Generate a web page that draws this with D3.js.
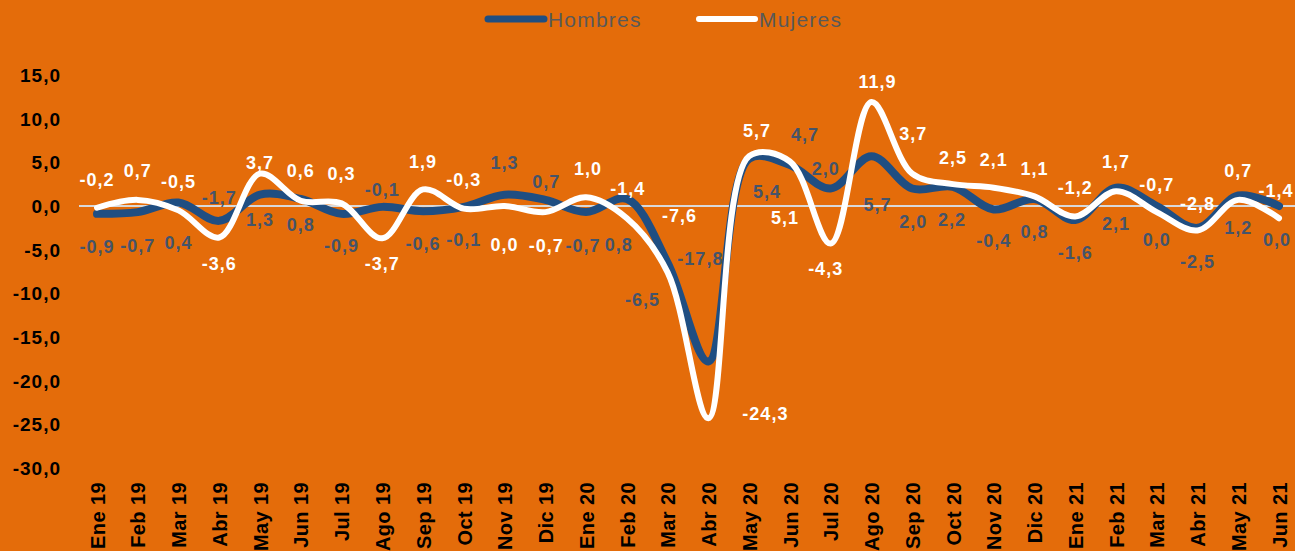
<!DOCTYPE html>
<html>
<head>
<meta charset="utf-8">
<script src="https://cdn.jsdelivr.net/npm/d3@7/dist/d3.min.js"></script>
<style>
  html, body { margin: 0; padding: 0; background: #E46C0A; }
  svg { display: block; font-family: "Liberation Sans", Arial, sans-serif; }
</style>
</head>
<body>
<svg id="chart" width="1295" height="551"></svg>
<script>
// meses
var months = ["Ene 19", "Feb 19", "Mar 19", "Abr 19", "May 19", "Jun 19", "Jul 19", "Ago 19", "Sep 19", "Oct 19", "Nov 19", "Dic 19",
  "Ene 20", "Feb 20", "Mar 20", "Abr 20", "May 20", "Jun 20", "Jul 20", "Ago 20", "Sep 20", "Oct 20", "Nov 20", "Dic 20",
  "Ene 21", "Feb 21", "Mar 21", "Abr 21", "May 21", "Jun 21"];

var hombres = [-0.9, -0.7, 0.4, -1.7, 1.3, 0.8, -0.9, -0.1, -0.6, -0.1, 1.3, 0.7,
  -0.7, 0.8, -6.5, -17.8, 5.4, 4.7, 2.0, 5.7, 2.0, 2.2, -0.4, 0.8,
  -1.6, 2.1, 0.0, -2.5, 1.2, 0.0];

var mujeres = [-0.2, 0.7, -0.5, -3.6, 3.7, 0.6, 0.3, -3.7, 1.9, -0.3, 0.0, -0.7,
  1.0, -1.4, -7.6, -24.3, 5.7, 5.1, -4.3, 11.9, 3.7, 2.5, 2.1, 1.1,
  -1.2, 1.7, -0.7, -2.8, 0.7, -1.4];

var yTicks = [-30, -25, -20, -15, -10, -5, 0, 5, 10, 15];

// where each data label sits relative to its point (px)
var hombresLabelOff = [[0, 33], [0, 33], [0, 40], [0, -23], [0, 25], [0, 26], [0, 32], [0, -17], [0, 32], [0, 33], [0, -32], [1, -18],
  [-3, 33], [-8, 46], [-25, 37], [-8, -103], [18, 33], [15, -30], [-5, -20], [6, 48], [1, 33], [-1, 33], [0, 31], [0, 33],
  [0, 33], [0, 36], [0, 34], [0, 34], [0, 32], [-2, 34]];
var mujeresLabelOff = [[0, -28], [0, -29], [0, -29], [0, 26], [0, -11], [0, -30], [0, -30], [0, 25], [0, -28], [0, -29], [0, 39], [1, 33],
  [2, -29], [1, -30], [12, -57], [57, -5], [8, -26], [-5, 56], [-5, 25], [6, -21], [1, -40], [0, -27], [0, -28], [0, -28],
  [0, -29], [0, -30], [0, -28], [0, -27], [0, -29], [-3, -28]];

var es = d3.formatLocale({decimal: ",", thousands: ".", grouping: [3], currency: ["", "€"], minus: "-"});
var fmt = es.format(".1f");

var svg = d3.select("#chart");
var W = 1295, H = 551;

svg.append("rect").attr("width", W).attr("height", H).attr("fill", "#E46C0A");

var x = d3.scalePoint().domain(months).range([97, 1279]);
var y = d3.scaleLinear().domain([-30, 15]).range([468, 75]);

// y axis
var yAxis = svg.append("g")
  .attr("transform", "translate(61,0)")
  .call(d3.axisLeft(y).tickValues(yTicks).tickSize(0).tickPadding(0).tickFormat(fmt));
yAxis.select(".domain").remove();
yAxis.selectAll("text")
  .attr("font-family", "'Liberation Sans', Arial, sans-serif")
  .attr("font-size", 19)
  .attr("font-weight", "bold")
  .attr("letter-spacing", "1px")
  .attr("fill", "#000")
  .attr("dy", "0.35em");

// x axis, rotated labels
var xAxis = svg.append("g")
  .attr("transform", "translate(0,482)")
  .call(d3.axisBottom(x).tickSize(0).tickPadding(0));
xAxis.select(".domain").remove();
xAxis.selectAll("text")
  .attr("font-family", "'Liberation Sans', Arial, sans-serif")
  .attr("font-size", 20)
  .attr("font-weight", "bold")
  .attr("letter-spacing", "0.4px")
  .attr("fill", "#000")
  .attr("text-anchor", "end")
  .attr("transform", "rotate(-90)")
  .attr("x", 0)
  .attr("y", 0)
  .attr("dy", "0.36em");

// zero line
svg.append("line")
  .attr("x1", 79).attr("x2", W)
  .attr("y1", y(0)).attr("y2", y(0))
  .attr("stroke", "#D9D9D9")
  .attr("stroke-width", 2);

var line = d3.line()
  .x(function(d, i) { return x(months[i]); })
  .y(function(d) { return y(d); })
  .curve(d3.curveCatmullRom.alpha(0.5));

svg.append("path")
  .datum(hombres)
  .attr("d", line)
  .attr("fill", "none")
  .attr("stroke", "#1F4E82")
  .attr("stroke-width", 8)
  .attr("stroke-linecap", "round")
  .attr("stroke-linejoin", "round");

svg.append("path")
  .datum(mujeres)
  .attr("d", line)
  .attr("fill", "none")
  .attr("stroke", "#FFFFFF")
  .attr("stroke-width", 6)
  .attr("stroke-linecap", "round")
  .attr("stroke-linejoin", "round");

function drawLabels(values, offs, color) {
  svg.append("g").selectAll("text")
    .data(values)
    .enter().append("text")
    .attr("x", function(d, i) { return x(months[i]) + offs[i][0]; })
    .attr("y", function(d, i) { return y(d) + offs[i][1]; })
    .attr("dy", "0.36em")
    .attr("text-anchor", "middle")
    .attr("font-size", 18)
    .attr("font-weight", "bold")
    .attr("letter-spacing", "1px")
    .attr("fill", color)
    .text(function(d) { return fmt(d); });
}
drawLabels(hombres, hombresLabelOff, "#44546A");
drawLabels(mujeres, mujeresLabelOff, "#FFFFFF");

// legend
var legend = [
  {name: "Hombres", color: "#1F4E82", w: 7, x: 488},
  {name: "Mujeres", color: "#FFFFFF", w: 6, x: 699}
];
var lg = svg.append("g").selectAll("g")
  .data(legend)
  .enter().append("g")
  .attr("transform", function(d) { return "translate(" + d.x + ",19)"; });
lg.append("line")
  .attr("x1", 0).attr("x2", 56)
  .attr("stroke", function(d) { return d.color; })
  .attr("stroke-width", function(d) { return d.w; })
  .attr("stroke-linecap", "round");
lg.append("text")
  .attr("x", 60)
  .attr("dy", "0.36em")
  .attr("font-size", 21)
  .attr("letter-spacing", "1.2px")
  .attr("fill", "#595959")
  .text(function(d) { return d.name; });
</script>
</body>
</html>
